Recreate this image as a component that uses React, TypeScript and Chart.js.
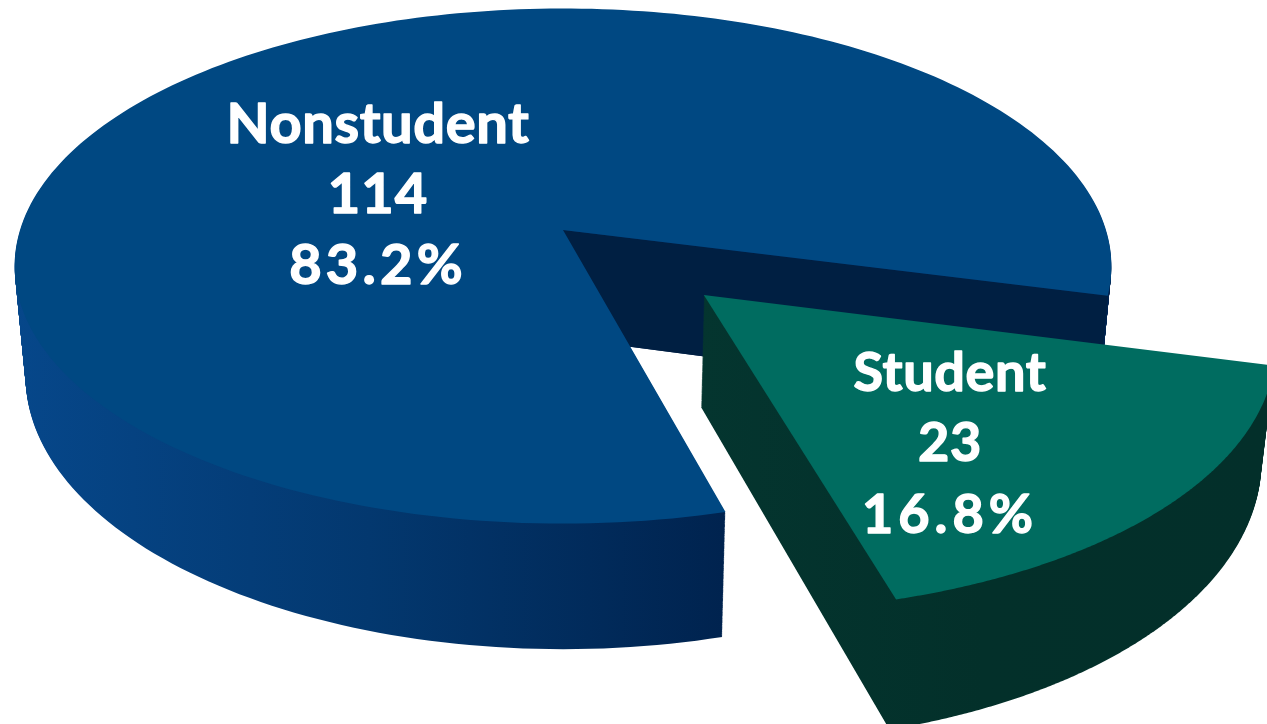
import React, { useEffect, useRef } from "react";
import { Chart, registerables } from "chart.js";

Chart.register(...registerables);

const categories = ["Nonstudent", "Student"];
const counts = [114, 23];
const shares = ["83.2%", "16.8%"];
const topColors = ["#004882", "#006C60"];
const wallColors = [["#06478A", "#03386F", "#00234F"], ["#04352F", "#03302A", "#032F2A"]];
const innerWallColor = "#001F42";
const labelLines = [
  { x: 378, ys: [143, 213, 284], sizes: [56, 56, 56], spacings: [0.6, 1, 4.2] },
  { x: 950, ys: [391, 461, 533], sizes: [54, 54, 54], spacings: [0.6, 0.6, 5] },
];

const TILT = 0.465;
const PERSPECTIVE = 0.14;
const DEPTH = 108;
const SHRINK = 0.98;

function outline(arc: any) {
  const off = (arc.options.offset || 0) / 4 / arc.outerRadius;
  const mid = (arc.startAngle + arc.endAngle) / 2;
  const ox = Math.cos(mid) * off;
  const oy = Math.sin(mid) * off;
  const pts: [number, number][] = [[ox, oy]];
  const steps = 240;
  for (let i = 0; i <= steps; i++) {
    const a = arc.startAngle + ((arc.endAngle - arc.startAngle) * i) / steps;
    pts.push([ox + Math.cos(a), oy + Math.sin(a)]);
  }
  return pts;
}

function place(arc: any, u: number, v: number, h: number): [number, number] {
  const R = arc.outerRadius;
  const s = 1 - (1 - SHRINK) * (h / DEPTH);
  const w = 1 - PERSPECTIVE * v;
  return [arc.x + ((R * u) / w) * s, arc.y + (R * TILT * v + h) / w];
}

function trace(ctx: CanvasRenderingContext2D, arc: any, pts: [number, number][], h: number) {
  ctx.beginPath();
  pts.forEach(([u, v], i) => {
    const [px, py] = place(arc, u, v, h);
    if (i === 0) ctx.moveTo(px, py);
    else ctx.lineTo(px, py);
  });
  ctx.closePath();
}

const pie3d = {
  id: "pie3d",
  beforeDatasetsDraw(chart: any) {
    const ctx: CanvasRenderingContext2D = chart.ctx;
    const arcs = chart.getDatasetMeta(0).data;
    ctx.save();
    arcs.forEach((arc: any, idx: number) => {
      const pts = outline(arc);
      const g = ctx.createLinearGradient(idx === 0 ? 15 : 700, 0, idx === 0 ? 722 : 1267, 0);
      g.addColorStop(0, wallColors[idx][0]);
      g.addColorStop(0.5, wallColors[idx][1]);
      g.addColorStop(1, wallColors[idx][2]);
      ctx.fillStyle = g;
      for (let h = DEPTH; h >= 1; h--) {
        trace(ctx, arc, pts, h);
        ctx.fill();
      }
      if (idx === 0) {
        // The cut face left open where the other slice was pulled out.
        const apex = pts[0];
        const rim = pts[pts.length - 1];
        const corners = [
          place(arc, apex[0], apex[1], 0),
          place(arc, rim[0], rim[1], 0),
          place(arc, rim[0], rim[1], DEPTH),
          place(arc, apex[0], apex[1], DEPTH),
        ];
        ctx.beginPath();
        corners.forEach(([x, y], i) => (i === 0 ? ctx.moveTo(x, y) : ctx.lineTo(x, y)));
        ctx.closePath();
        ctx.fillStyle = innerWallColor;
        ctx.fill();
      }
      trace(ctx, arc, pts, 0);
      ctx.fillStyle = arc.options.backgroundColor;
      ctx.fill();
    });
    ctx.restore();
    return false;
  },
  afterDraw(chart: any) {
    const ctx: CanvasRenderingContext2D = chart.ctx;
    ctx.save();
    ctx.fillStyle = "#FFFFFF";
    ctx.strokeStyle = "#FFFFFF";
    ctx.lineWidth = 1.4;
    ctx.lineJoin = "round";
    ctx.textAlign = "center";
    ctx.textBaseline = "alphabetic";
    categories.forEach((name, i) => {
      const spec = labelLines[i];
      [name, String(counts[i]), shares[i]].forEach((line, j) => {
        ctx.font = `bold ${spec.sizes[j]}px Lato`;
        (ctx as any).letterSpacing = `${spec.spacings[j]}px`;
        ctx.fillText(line, spec.x, spec.ys[j]);
        ctx.strokeText(line, spec.x, spec.ys[j]);
      });
    });
    ctx.restore();
  },
};

export default function App() {
  const ref = useRef<HTMLCanvasElement>(null);
  useEffect(() => {
    const chart = new Chart(ref.current as HTMLCanvasElement, {
      type: "pie",
      data: {
        labels: categories,
        datasets: [
          {
            data: counts,
            backgroundColor: topColors,
            borderWidth: 0,
            offset: [0, 766],
          },
        ],
      },
      options: {
        responsive: false,
        animation: false,
        radius: 543,
        cutout: "0%",
        rotation: 165,
        layout: { padding: { left: 0, top: 0, right: 141, bottom: 264 } },
        plugins: { legend: { display: false }, tooltip: { enabled: false } },
      } as any,
      plugins: [pie3d as any],
    });
    return () => chart.destroy();
  }, []);
  return (
    <div style={{ position: "fixed", left: 0, top: 0, width: 1267, height: 724, background: "#fff" }}>
      <canvas ref={ref} width={1267} height={724} style={{ display: "block" }} />
    </div>
  );
}
